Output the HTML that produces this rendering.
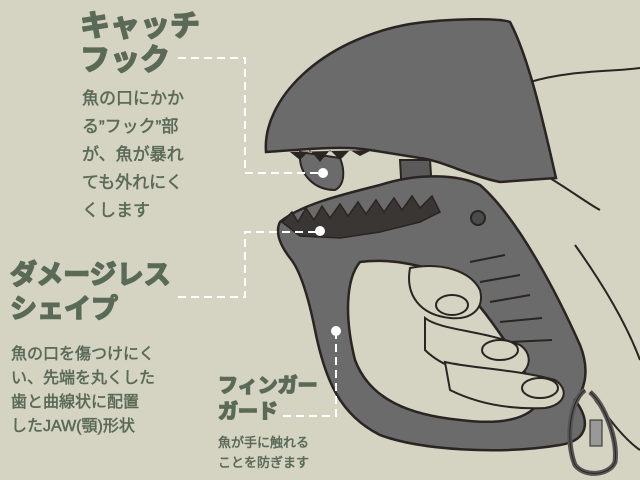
<!DOCTYPE html>
<html><head><meta charset="utf-8"><style>
html,body{margin:0;padding:0;background:#d5d3c2;}
svg{display:block}
.t{font-family:"Liberation Sans","Noto Sans CJK JP",sans-serif;fill:#5a6a57}
.h{font-weight:bold;stroke:#5a6a57;stroke-width:1.6;stroke-linejoin:round}
.b{stroke:#5a6a57;stroke-width:0.5}
</style></head><body>
<svg width="640" height="480" viewBox="0 0 640 480" xmlns="http://www.w3.org/2000/svg">
<rect width="640" height="480" fill="#d5d3c2"/>
<g fill="none" stroke="#2a2422" stroke-width="2">
<path d="M530,82 C570,70 610,72 640,68"/>
<path d="M545,175 C570,190 590,205 600,210"/>
<path d="M575,245 C600,280 625,320 640,360"/>
<path d="M595,400 C610,420 625,440 640,450"/>
</g>
<!-- top dome -->
<path d="M266,152 C262,100 320,40 410,24 C450,18 500,18 510,22 C530,60 545,130 556,178 L500,182 C470,176 440,160 420,158 L370,150 C340,145 300,150 266,152 Z" fill="#6b6b6b" stroke="#2a2422" stroke-width="2.5"/>
<path d="M300,152 C298,175 315,190 335,190 C345,185 345,170 340,158 Z" fill="#6b6b6b" stroke="#2a2422" stroke-width="2"/>
<path d="M290,152 L300,160 L310,150 L320,162 L330,150 L340,160 L350,150 L360,156 L372,150 Z" fill="#2a2422"/>
<path d="M400,160 L430,160 L432,190 L402,195 Z" fill="#5a5a5a" stroke="#2a2422" stroke-width="2"/>
<!-- lower handle -->
<path d="M280,222 C300,205 340,195 380,185 C420,172 460,175 480,185 C520,220 560,300 580,345 C590,370 585,390 575,400 C590,420 590,440 560,445 C500,455 420,450 380,435 C340,415 325,380 315,330 C308,295 300,270 290,258 C280,245 275,232 280,222 Z" fill="#6b6b6b" stroke="#2a2422" stroke-width="2.5"/>
<path d="M360,262 C390,258 420,265 450,275 C480,300 520,360 540,400 C530,420 500,425 460,420 C410,415 370,400 355,360 C345,320 345,280 360,262 Z" fill="#d5d3c2" stroke="#2a2422" stroke-width="2.5"/>
<path d="M282,222 L292,212 L298,222 L306,208 L314,220 L322,206 L330,218 L340,204 L348,216 L358,202 L366,214 L376,200 L384,212 L394,198 L402,210 L412,196 L420,208 L432,196 L440,212 L420,222 L380,232 L340,238 L300,236 Z" fill="#3a3634" stroke="#2a2422" stroke-width="1.5"/>
<g stroke="#2a2422" stroke-width="2" fill="none">
<path d="M470,262 L505,255"/><path d="M480,282 L520,275"/><path d="M490,302 L530,295"/><path d="M500,322 L542,318"/><path d="M510,342 L552,340"/>
<circle cx="478" cy="218" r="7" fill="#4a4a4a"/>
</g>
<g fill="#d5d3c2" stroke="#2a2422" stroke-width="2">
<path d="M410,268 C440,262 470,270 480,290 C485,310 470,320 450,318 C420,315 405,295 410,268 Z"/>
<path d="M425,318 C440,330 480,330 520,345 C535,355 530,375 510,378 C470,378 440,365 425,350 Z"/>
<path d="M445,362 C470,368 520,370 555,380 C570,390 565,405 545,408 C500,410 470,400 450,390 Z"/>
<ellipse cx="452" cy="305" rx="16" ry="10"/>
<ellipse cx="500" cy="350" rx="18" ry="10"/>
<ellipse cx="540" cy="388" rx="18" ry="10"/>
</g>
<path d="M585,390 C570,400 565,440 575,465 C585,478 610,475 615,462 C618,440 605,405 590,392" fill="none" stroke="#555" stroke-width="5"/>
<path d="M585,390 C570,400 565,440 575,465 C585,478 610,475 615,462 C618,440 605,405 590,392" fill="none" stroke="#2a2422" stroke-width="1"/>
<rect x="590" y="420" width="12" height="26" fill="#999" stroke="#2a2422"/>
<g stroke="#fff" stroke-width="2" stroke-dasharray="8,5" fill="none">
<path d="M178,58 H245 V173 H323"/>
<path d="M178,297 H245 V232 H320"/>
<path d="M336,331 V416 H283"/>
</g>
<g fill="#fff"><circle cx="323" cy="173" r="5"/><circle cx="320" cy="231" r="5"/><circle cx="336" cy="331" r="5"/></g>
<text class="t h" x="80" y="36" font-size="30">キャッチ</text>
<text class="t h" x="80" y="70" font-size="30">フック</text>
<g class="t b" font-size="17">
<text x="82" y="104">魚の口にかか</text>
<text x="82" y="132">る”フック”部</text>
<text x="82" y="160">が、魚が暴れ</text>
<text x="82" y="188">ても外れにく</text>
<text x="82" y="216">くします</text>
</g>
<text class="t h" x="10" y="284" font-size="27">ダメージレス</text>
<text class="t h" x="10" y="318" font-size="27">シェイプ</text>
<g class="t b" font-size="16">
<text x="11" y="359">魚の口を傷つけにく</text>
<text x="11" y="383">い、先端を丸くした</text>
<text x="11" y="407">歯と曲線状に配置</text>
<text x="11" y="431">したJAW(顎)形状</text>
</g>
<text class="t h" x="218" y="392" font-size="20">フィンガー</text>
<text class="t h" x="218" y="418" font-size="20">ガード</text>
<g class="t b" font-size="13">
<text x="218" y="447">魚が手に触れる</text>
<text x="218" y="467">ことを防ぎます</text>
</g>
</svg>
</body></html>
